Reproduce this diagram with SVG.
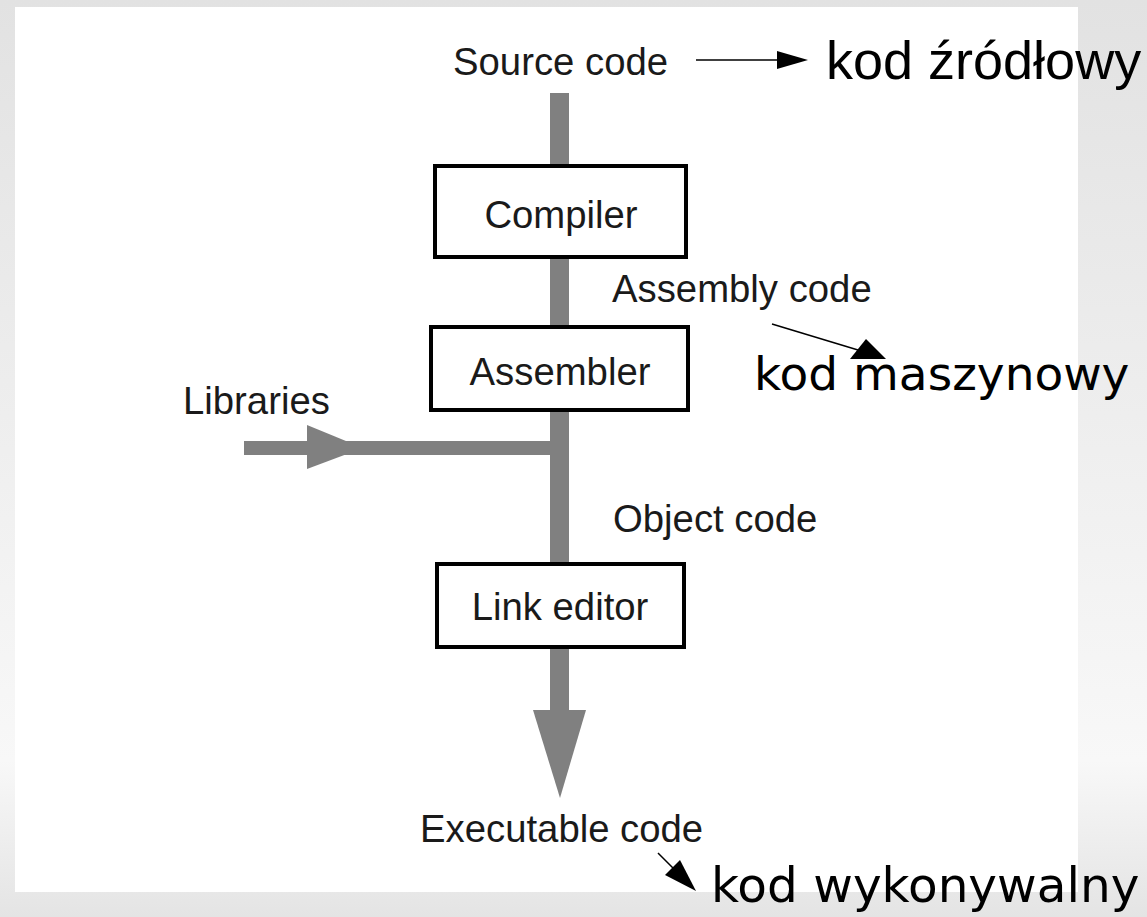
<svg xmlns="http://www.w3.org/2000/svg" width="1147" height="917" viewBox="0 0 1147 917">
<defs>
<linearGradient id="bg" x1="0" y1="0" x2="0" y2="1">
<stop offset="0" stop-color="#e2e2e2"/>
<stop offset="0.83" stop-color="#f8f8f8"/>
<stop offset="1" stop-color="#e4e4e4"/>
</linearGradient>
<style>
.box{fill:#fff;stroke:#000;stroke-width:4}
.lbl{font-family:"Liberation Sans",Arial,sans-serif;font-size:38.3px;fill:#1a1a1a}
.pl{font-family:"Liberation Sans",Arial,sans-serif;font-size:54px;fill:#000}
.pd{font-family:"DejaVu Sans",sans-serif;font-size:47px;fill:#000}
.pd2{font-family:"DejaVu Sans",sans-serif;font-size:48.5px;fill:#000}
.flow{fill:#808080}
.thin{stroke:#000;stroke-width:1.5;fill:none}
.head{fill:#000}
</style>
</defs>
<rect x="0" y="0" width="1147" height="917" fill="url(#bg)"/>
<rect x="15" y="7" width="1063" height="885" fill="#fff"/>
<g id="connectors">
<rect class="flow" x="550" y="93" width="19" height="618"/>
<polygon class="flow" points="533,710 586,710 560,798"/>
<rect class="flow" x="244" y="441" width="306" height="14"/>
<polygon class="flow" points="307,425 363,448 307,469"/>
<line class="thin" x1="696" y1="60" x2="780" y2="60"/>
<polygon class="head" points="777,51 808,60 777,69"/>
<line class="thin" x1="772" y1="324" x2="858" y2="350"/>
<polygon class="head" points="850,359 866,339 886,359"/>
<line class="thin" x1="658" y1="853" x2="673" y2="868"/>
<polygon class="head" points="665,875 680,860 696,891"/>
</g>
<g id="compiler">
<rect class="box" x="435" y="166" width="251" height="91"/>
<text class="lbl" x="561" y="228" text-anchor="middle">Compiler</text>
</g>
<g id="assembler">
<rect class="box" x="431" y="327" width="257" height="83"/>
<text class="lbl" x="560" y="385" text-anchor="middle">Assembler</text>
</g>
<g id="link-editor">
<rect class="box" x="437" y="564" width="247" height="83"/>
<text class="lbl" x="560" y="620" text-anchor="middle">Link editor</text>
</g>
<g id="source-code"><text class="lbl" x="453" y="75">Source code</text></g>
<g id="assembly-code"><text class="lbl" x="612" y="302">Assembly code</text></g>
<g id="libraries"><text class="lbl" x="183" y="414">Libraries</text></g>
<g id="object-code"><text class="lbl" x="613" y="532">Object code</text></g>
<g id="executable-code"><text class="lbl" x="420" y="842">Executable code</text></g>
<g id="kod-zrodlowy"><text class="pl" x="826" y="79">kod źródłowy</text></g>
<g id="kod-maszynowy"><text class="pd" x="754" y="390">kod maszynowy</text></g>
<g id="kod-wykonywalny"><text class="pd2" x="711" y="902">kod wykonywalny</text></g>
</svg>
